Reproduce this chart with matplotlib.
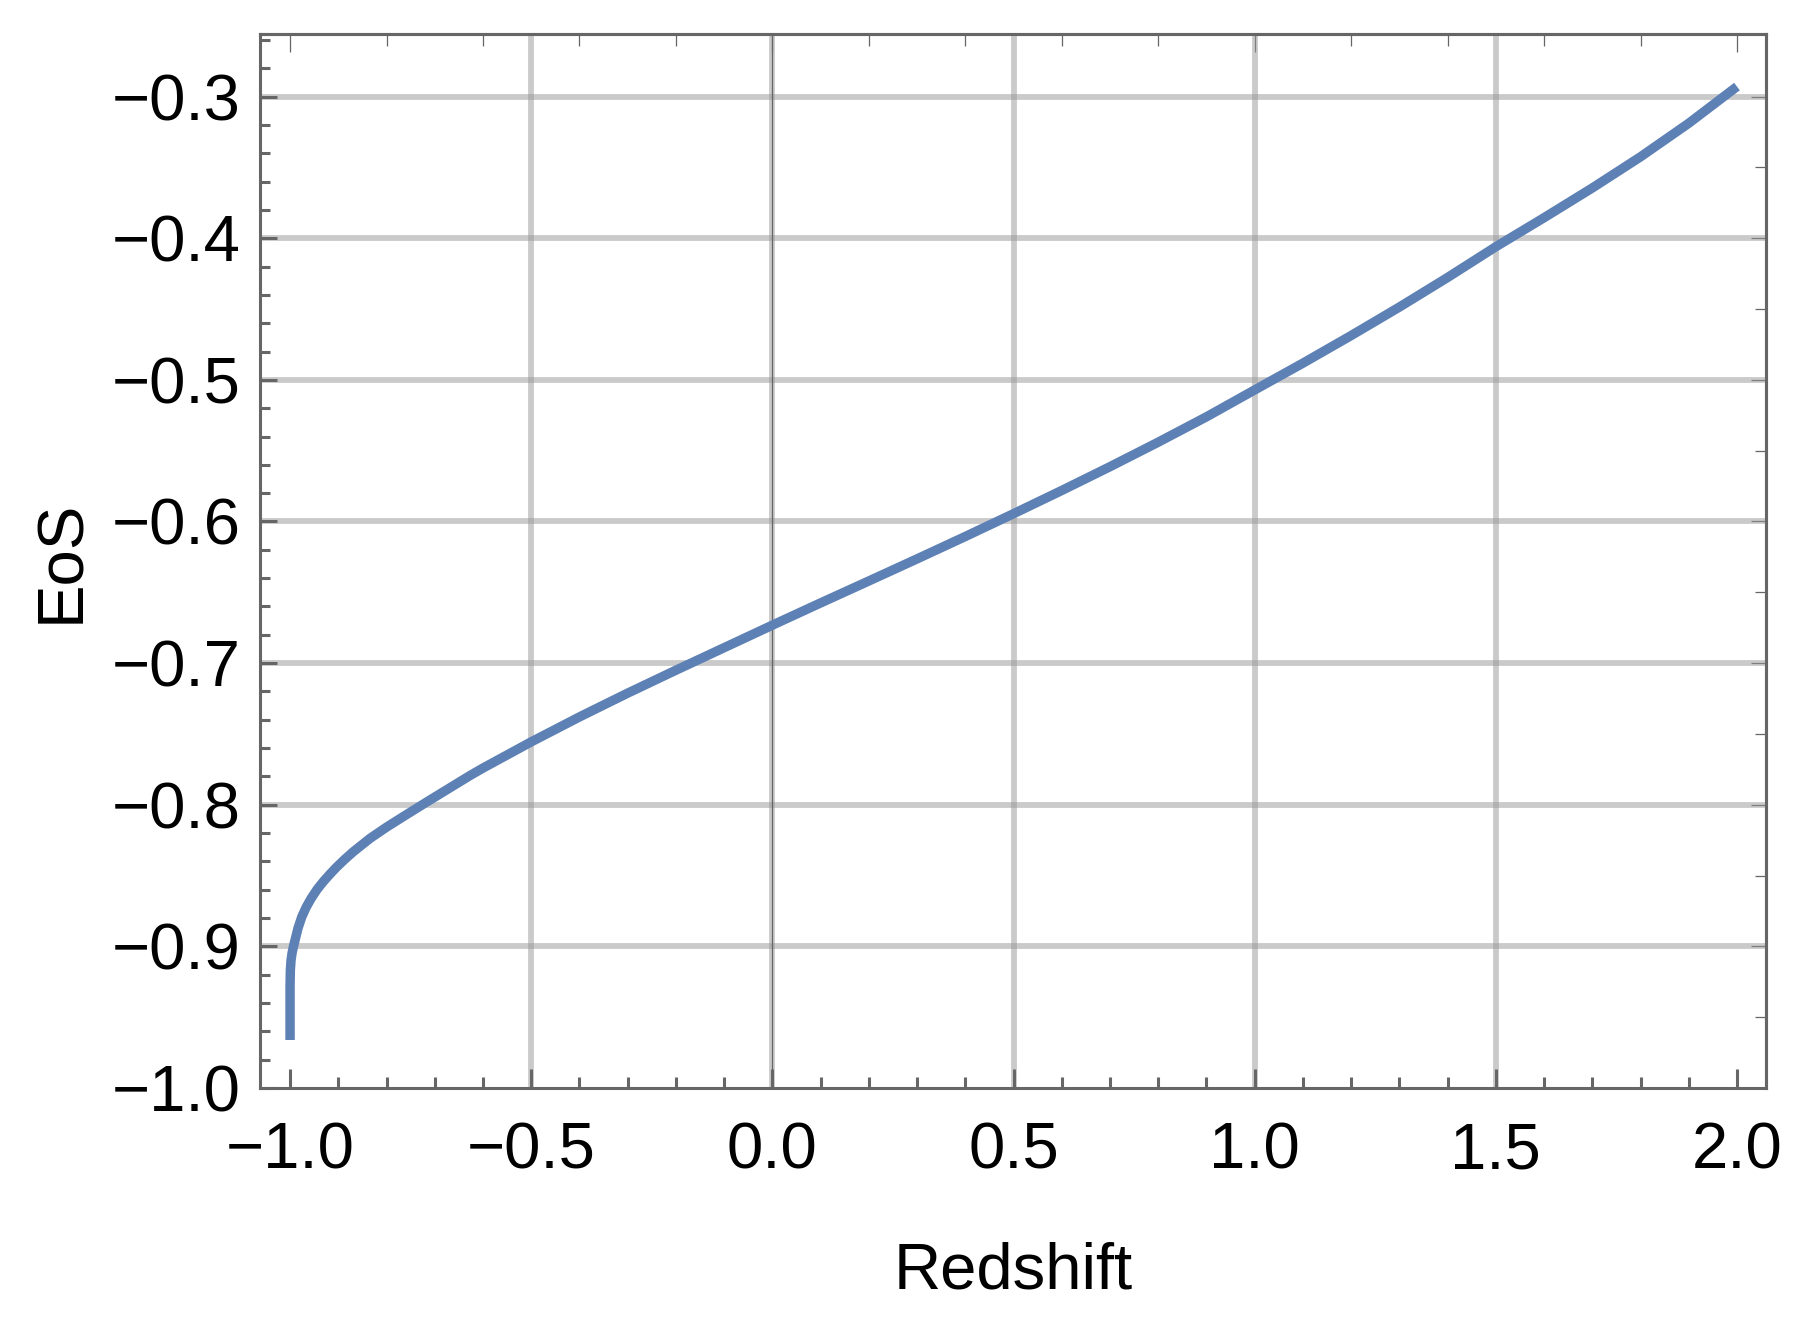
import matplotlib
matplotlib.use("Agg")
import matplotlib.pyplot as plt
from matplotlib.ticker import MultipleLocator, NullFormatter

plt.rcParams['font.family'] = ['Liberation Sans', 'DejaVu Sans']

# ---- data ----
redshift = [-1.0, -1.0, -0.99938, -0.99793, -0.99585, -0.99274, -0.98859,
            -0.9834, -0.97573, -0.9668, -0.95643, -0.94398, -0.93091,
            -0.91701, -0.90311, -0.88589, -0.86867, -0.83402, -0.79938,
            -0.76494, -0.71639, -0.62656, -0.6, -0.5, -0.4, -0.3, -0.2, -0.1,
            0.0, 0.1, 0.2, 0.3, 0.4, 0.5, 0.6, 0.7, 0.8, 0.9, 1.0, 1.1, 1.2,
            1.3, 1.4, 1.5, 1.6, 1.7, 1.8, 1.9, 2.0]
eos = [-0.9661, -0.9273, -0.9167, -0.9096, -0.9047, -0.8997, -0.8941,
       -0.8870, -0.8792, -0.8725, -0.8662, -0.8598, -0.8542, -0.8489,
       -0.8439, -0.8383, -0.8331, -0.8237, -0.8157, -0.8083, -0.7980,
       -0.7793, -0.7741, -0.7556, -0.7380, -0.7212, -0.7050, -0.6891,
       -0.6732, -0.6575, -0.6420, -0.6264, -0.6106, -0.5945, -0.5781,
       -0.5613, -0.5440, -0.5261, -0.5071, -0.4882, -0.4687, -0.4486,
       -0.4277, -0.4060, -0.3855, -0.3645, -0.3425, -0.3188, -0.2929]

x_major = [-1.0, -0.5, 0.0, 0.5, 1.0, 1.5, 2.0]
x_labels = ['\u22121.0', '\u22120.5', '0.0', '0.5', '1.0', '1.5', '2.0']
y_major = [-1.0, -0.9, -0.8, -0.7, -0.6, -0.5, -0.4, -0.3]
y_labels = ['\u22121.0', '\u22120.9', '\u22120.8', '\u22120.7', '\u22120.6',
            '\u22120.5', '\u22120.4', '\u22120.3']
x_grid = [-0.5, 0.0, 0.5, 1.0, 1.5]
y_grid = [-0.9, -0.8, -0.7, -0.6, -0.5, -0.4, -0.3]
top_major = [-1.0, 0.0, 1.0, 2.0]
right_major = [-1.0, -0.9, -0.8, -0.7, -0.6, -0.5, -0.4, -0.3]

# ---- styling ----
frame_col = '#666666'
line_col = '#5E81B5'
fs = 23.5

fig = plt.figure(figsize=(9.025, 6.615), dpi=200)
ax = fig.add_axes([0.1440, 0.17763, 0.8344, 0.79644])

ax.set_xlim(-1.0625, 2.0602)
ax.set_ylim(-1.0, -0.256)

for g in x_grid:
    ax.axvline(g, color='#979797', alpha=0.5, lw=2.1, zorder=1)
for g in y_grid:
    ax.axhline(g, color='#979797', alpha=0.5, lw=2.1, zorder=1)
ax.axvline(0.0, color=frame_col, lw=0.45, zorder=1.5)

ax.plot(redshift, eos, color=line_col, lw=3.4, solid_capstyle='butt',
        solid_joinstyle='round', zorder=3)

for s in ax.spines.values():
    s.set_color(frame_col)
    s.set_linewidth(1.1)

ax.set_xticks(x_major)
ax.set_xticklabels(x_labels)
ax.set_yticks(y_major)
ax.set_yticklabels(y_labels)
ax.xaxis.set_minor_locator(MultipleLocator(0.1))
ax.yaxis.set_minor_locator(MultipleLocator(0.02))

ax.tick_params(which='both', direction='in', color=frame_col, top=False,
               right=False, labelsize=fs, labelcolor='black')
ax.tick_params(axis='x', which='major', length=6.8, width=1.1, pad=12)
ax.tick_params(axis='x', which='minor', length=4.0, width=1.1)
ax.tick_params(axis='y', which='major', length=6.1, width=1.1, pad=7)
ax.tick_params(axis='y', which='minor', length=3.6, width=1.1)

# top frame ticks
secx = ax.secondary_xaxis('top')
secx.set_xticks(top_major)
secx.xaxis.set_major_formatter(NullFormatter())
secx.xaxis.set_minor_locator(MultipleLocator(0.2))
secx.tick_params(which='both', direction='in', color=frame_col, width=0.45)
secx.tick_params(which='major', length=6.5)
secx.tick_params(which='minor', length=4.3)
secx.spines['top'].set_color(frame_col)
secx.spines['top'].set_linewidth(1.1)

# right frame ticks
secy = ax.secondary_yaxis('right')
secy.set_yticks(right_major)
secy.yaxis.set_major_formatter(NullFormatter())
secy.yaxis.set_minor_locator(MultipleLocator(0.05))
secy.tick_params(which='both', direction='in', color=frame_col, width=0.45)
secy.tick_params(which='major', length=5.4)
secy.tick_params(which='minor', length=4.0)
secy.spines['right'].set_color(frame_col)
secy.spines['right'].set_linewidth(1.1)

ax.set_xlabel('Redshift', fontsize=fs)
ax.xaxis.set_label_coords(0.5, -0.146)
ax.set_ylabel('EoS', fontsize=fs)
ax.yaxis.set_label_coords(-0.1116, 0.5)

fig.savefig('out.png', dpi=200, facecolor='white')
